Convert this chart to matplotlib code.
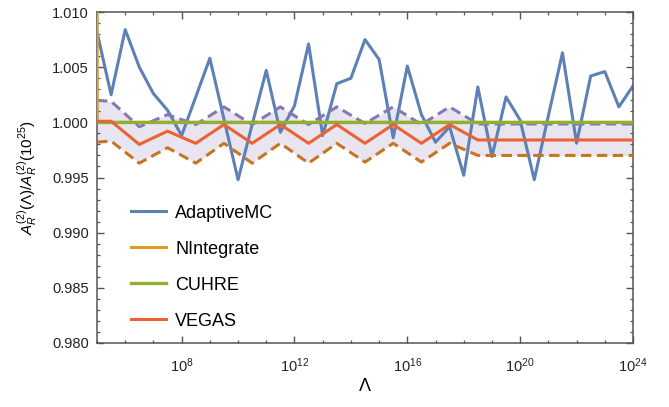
import numpy as np
import matplotlib
matplotlib.use('Agg')
import matplotlib.pyplot as plt
from matplotlib.ticker import LogFormatterSciNotation, MultipleLocator, FormatStrFormatter

plt.rcParams['font.family'] = ['Liberation Sans', 'DejaVu Sans']
plt.rcParams['mathtext.fontset'] = 'custom'
plt.rcParams['mathtext.rm'] = 'Liberation Sans'
plt.rcParams['mathtext.it'] = 'Liberation Sans:italic'

# log10(Lambda) grid of the AdaptiveMC run
amc_exp = [5.0, 5.5, 6.0, 6.5, 7.0, 7.5, 8.0, 8.5, 9.0, 9.5, 10.0, 10.5, 11.0,
           11.5, 12.0, 12.5, 13.0, 13.5, 14.0, 14.5, 15.0, 15.5, 16.0, 16.5,
           17.0, 17.5, 18.0, 18.5, 19.0, 19.5, 20.0, 20.5, 21.0, 21.5, 22.0,
           22.5, 23.0, 23.5, 24.0]
amc_val = [1.0082, 1.0025, 1.0084, 1.0050, 1.0026, 1.0011, 0.9988, 1.0023,
           1.0058, 1.0003, 0.9948, 0.9998, 1.0047, 0.9991, 1.0015, 1.0071,
           0.9988, 1.0035, 1.0040, 1.0075, 1.0057, 0.9986, 1.0051, 1.0007,
           0.9982, 0.9996, 0.9952, 1.0032, 0.9969, 1.0023, 1.0002, 0.9948,
           1.0006, 1.0063, 0.9981, 1.0042, 1.0046, 1.0014, 1.0033]

# VEGAS with its error band
veg_exp = [5.0, 5.5, 6.5, 7.5, 8.5, 9.5, 10.5, 11.5, 12.5, 13.5, 14.5, 15.5,
           16.5, 17.5, 18.5, 24.0]
veg_val = [1.0001, 1.0001, 0.9980, 0.9992, 0.9981, 0.9998, 0.9981, 0.9998,
           0.9981, 0.9998, 0.9981, 0.9998, 0.9981, 0.9998, 0.9984, 0.9984]
veg_hi = [1.0020, 1.0019, 0.9996, 1.0007, 0.9998, 1.0014, 0.9998, 1.0014,
          0.9998, 1.0014, 0.9999, 1.0014, 0.9998, 1.0014, 0.99985, 0.99985]
veg_lo = [0.9982, 0.9983, 0.9963, 0.9977, 0.9963, 0.9981, 0.9963, 0.9981,
          0.9963, 0.9981, 0.9964, 0.9981, 0.9964, 0.9981, 0.9970, 0.9970]

nint_exp = [5.0, 5.01, 24.0]
nint_val = [1.03, 1.0, 1.0]

cuhre_exp = [5.0, 24.0]
cuhre_val = [1.0, 1.0]

to_lam = lambda e: 10.0 ** np.array(e)

fig = plt.figure(figsize=(6.69, 4.07), dpi=100)
ax = fig.add_axes([97 / 669, 1 - 343 / 407, 536 / 669, 331 / 407])

ax.fill_between(to_lam(veg_exp), veg_lo, veg_hi, color='#E8E5F1', lw=0, zorder=1)
ax.plot(to_lam(amc_exp), amc_val, color='#5E81B5', lw=2.2, label='AdaptiveMC', zorder=2)
ax.plot(to_lam(veg_exp), veg_hi, color='#8778B3', lw=2.2, dashes=(3.4, 1.8), zorder=3)
ax.plot(to_lam(veg_exp), veg_lo, color='#C87420', lw=2.2, dashes=(3.4, 1.8), zorder=3)
ax.plot(to_lam(nint_exp), nint_val, color='#E19C24', lw=2.2, label='NIntegrate', zorder=4)
ax.plot(to_lam(cuhre_exp), cuhre_val, color='#8FB032', lw=2.4, label='CUHRE', zorder=5)
ax.plot(to_lam(veg_exp), veg_val, color='#EB6235', lw=2.2, label='VEGAS', zorder=6)

ax.set_xscale('log')
ax.set_xlim(1e5, 1e24)
ax.set_ylim(0.980, 1.010)
ax.set_xticks([1e8, 1e12, 1e16, 1e20, 1e24])
ax.set_xticks(to_lam(list(range(5, 25))), minor=True)
ax.xaxis.set_major_formatter(LogFormatterSciNotation())
ax.xaxis.set_minor_formatter(plt.NullFormatter())
ax.yaxis.set_major_locator(MultipleLocator(0.005))
ax.yaxis.set_minor_locator(MultipleLocator(0.001))
ax.yaxis.set_major_formatter(FormatStrFormatter('%.3f'))

for s in ax.spines.values():
    s.set_color('#555555')
    s.set_linewidth(1.1)
ax.tick_params(which='both', direction='in', top=True, right=True,
               color='#555555', labelsize=10.5, labelcolor='#222222')
ax.tick_params(which='major', length=5, width=1, pad=6)
ax.tick_params(axis='x', which='major', pad=10)
ax.tick_params(which='minor', length=2.5, width=0.9)

ax.set_xlabel(r'$\Lambda$', fontsize=13, labelpad=2)
ax.set_ylabel(r'$A_R^{(2)}(\Lambda)/A_R^{(2)}(10^{25})$', fontsize=11)
ax.yaxis.set_label_coords(-0.108, 0.5)

ax.legend(loc='upper left', bbox_to_anchor=(0.063, 0.418), frameon=False,
          fontsize=13, handlelength=1.95, handletextpad=0.5, labelspacing=1.05,
          borderpad=0, borderaxespad=0)

fig.savefig('out.png', dpi=100)
